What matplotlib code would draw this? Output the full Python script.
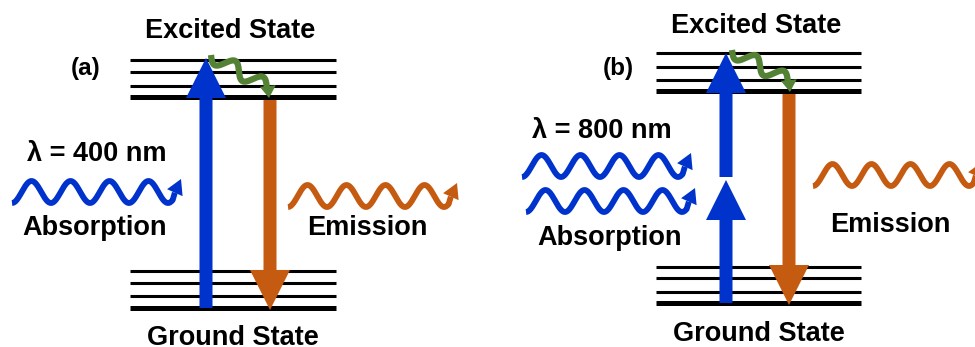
import numpy as np
import matplotlib.pyplot as plt
from matplotlib.patches import FancyArrow, Polygon

plt.rcParams['font.family'] = ['Liberation Sans', 'DejaVu Sans']

BLUE = '#0033cc'
ORANGE = '#c55a11'
GREEN = '#548235'

# diagram layout, in pixels of the 975x347 picture (y grows downwards)
level_x = [(130, 336), (656, 861)]
excited_y = [[60, 72, 86, 97], [53, 67, 80, 91]]
ground_y = [[271, 283, 296, 308], [267, 278, 292, 303]]

# thick transition arrows: (x, y_tail, y_tip, colour)
transitions = [
    (206, 308, 58, BLUE),
    (270, 100, 310, ORANGE),
    (726, 177, 53, BLUE),
    (726, 303, 180, BLUE),
    (789, 94, 305, ORANGE),
]

# relaxation squiggles: start, end (arrow tip)
relax = [((211, 55), (269, 98)), ((732, 50), (790, 92))]

# photon waves: x start, centre y, colour
waves = [
    (12, 192, BLUE),
    (288, 196, ORANGE),
    (522, 166, BLUE),
    (526, 201, BLUE),
    (813, 175, ORANGE),
]
wave_period = 39
wave_amp = 11

labels = [
    ('Excited State', 230, 31, 19.5),
    ('Ground State', 233, 338, 19.5),
    ('(a)', 86, 68, 17.5),
    ('λ = 400 nm', 97, 154, 19.5),
    ('Absorption', 95, 228, 19.5),
    ('Emission', 367, 228, 19.5),
    ('Excited State', 756, 26, 19.5),
    ('Ground State', 759, 334, 19.5),
    ('(b)', 618, 68, 17.5),
    ('λ = 800 nm', 602, 131, 19.5),
    ('Absorption', 610, 238, 19.5),
    ('Emission', 890, 225, 19.5),
]

fig = plt.figure(figsize=(9.75, 3.47), dpi=100)
ax = fig.add_axes([0, 0, 1, 1])
ax.set_xlim(0, 975)
ax.set_ylim(347, 0)
ax.axis('off')

# energy levels, the lowest of each stack drawn thicker
for (x0, x1), ex, gr in zip(level_x, excited_y, ground_y):
    for ys in (ex, gr):
        for i, y in enumerate(ys):
            lw = 3.6 if i == len(ys) - 1 else 2.2
            ax.plot([x0, x1], [y, y], color='black', lw=lw, solid_capstyle='butt', zorder=1)

for x, y0, y1, c in transitions:
    ax.add_patch(FancyArrow(x, y0, 0, y1 - y0, width=13, head_width=40, head_length=40,
                            length_includes_head=True, color=c, lw=0, zorder=3))


def head_tri(tip, direction, length, width, color, z):
    """filled triangle arrow head, returns the middle of its base"""
    tip = np.array(tip, float)
    d = np.array(direction, float)
    d /= np.hypot(*d)
    n = np.array([-d[1], d[0]])
    base = tip - length * d
    ax.add_patch(Polygon([tip, base + n * width / 2, base - n * width / 2],
                         closed=True, color=color, lw=0, zorder=z))
    return base


def squiggle(p0, p1, amp, n, phase=0.0):
    """sine wiggle laid along the segment p0 -> p1"""
    p0 = np.array(p0, float)
    p1 = np.array(p1, float)
    d = p1 - p0
    u = d / np.hypot(*d)
    nrm = np.array([-u[1], u[0]])
    t = np.linspace(0, 1, 300)
    off = amp * np.sin(2 * np.pi * n * t + phase)
    return p0[None, :] + t[:, None] * d[None, :] + off[:, None] * nrm[None, :]


for x0, yc, c in waves:
    # starts at a trough, four full periods, then turns up into the arrow head
    x = np.linspace(x0, x0 + 4.12 * wave_period, 400)
    y = yc + wave_amp * np.cos(2 * np.pi * (x - x0) / wave_period)
    trough_x = x0 + 4 * wave_period
    tip = (trough_x + 13, yc + wave_amp - 24)
    base = head_tri(tip, (0.45, -1), 15, 17, c, 2)
    ax.plot(np.r_[x, base[0]], np.r_[y, base[1]], color=c, lw=4.2,
            solid_capstyle='butt', solid_joinstyle='round', zorder=2)

for p0, p1 in relax:
    base = head_tri(p1, (0.1, 1), 12, 16, GREEN, 4)
    pts = squiggle(p0, base + np.array([-1, 1]), 7, 2)
    ax.plot(pts[:, 0], pts[:, 1], color=GREEN, lw=4.5, solid_capstyle='butt', zorder=4)

for s, x, y, fs in labels:
    ax.text(x, y, s, fontsize=fs, fontweight='bold', ha='center', va='center')

fig.savefig('out.png', dpi=100)
